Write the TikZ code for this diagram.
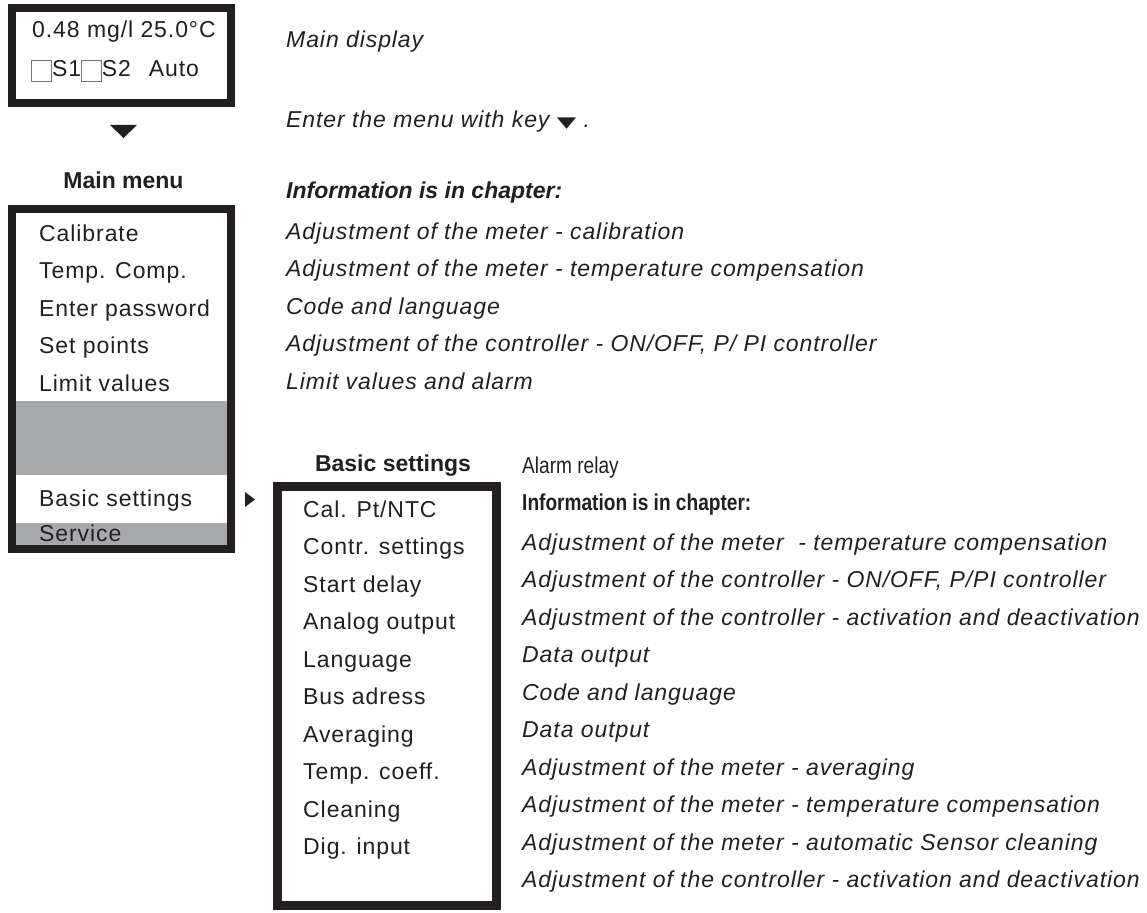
\documentclass[tikz,border=0pt]{standalone}
\usepackage{fontspec}
\setmainfont{Liberation Sans}[LetterSpace=4, BoldFeatures={LetterSpace=0}, BoldItalicFeatures={LetterSpace=0}]
\newfontfamily\symfont{DejaVu Sans}
\newfontfamily\narrowfont{Liberation Sans}[FakeStretch=0.83]

\definecolor{ink}{RGB}{35,31,32}
\definecolor{menugray}{RGB}{167,168,171}

\newcommand\basefont{\fontsize{23}{28}\selectfont}
% small check box of the display
\newcommand\ckbox{\raisebox{-4pt}{\textcolor{black!55}{\fboxsep=0pt\fboxrule=0.9pt\fbox{\rule{0pt}{20pt}\hspace{19pt}}}}}
% key symbol in the text
\newcommand\keydown{{\symfont\scalebox{1.1}[0.65]{▼}}}

\tikzset{
  frame/.style={draw=ink, line width=8pt},
  entry/.style={anchor=base west, inner sep=0pt, text=ink, font=\basefont},
  note/.style={entry, font=\basefont\itshape},
  narrow/.style={entry, font=\narrowfont\basefont},
  title/.style={anchor=base, inner sep=0pt, text=ink, font=\basefont\bfseries},
  marker/.style={fill=ink},
}

\begin{document}
\begin{tikzpicture}[x=1pt, y=-1pt]
  \useasboundingbox (0,0) rectangle (1147,912);

  % display
  \draw[frame] (12,8) rectangle (231,103);
  \node[entry] (reading) at (32,38) {0.48 mg/l 25.0°C};
  \node[entry] (status) at (31,77) {\ckbox S1\ckbox S2\hspace{18pt}Auto};
  \fill[marker] (110,125) -- (137,125) -- (123.5,138) -- cycle;

  % main menu
  \node[title] (mainhead) at (123.5,188) {Main menu};
  \fill[menugray] (16,401) rectangle (227,475);
  \fill[menugray] (16,523) rectangle (227,545);
  \draw[frame] (12,209) rectangle (231,549);
  \foreach \t [count=\i from 1] in {Calibrate, Temp. Comp., Enter password, Set points, Limit values}
    \node[entry] (m\i) at (39,203.5+37.5*\i) {\t};
  \node[entry] (m6) at (39,506) {Basic settings};
  \node[entry] (m7) at (39,541) {Service};
  \fill[marker] (245,492) -- (255,499.5) -- (245,507) -- cycle;

  % basic settings submenu
  \node[title] (basichead) at (393,471) {Basic settings};
  \draw[frame, line width=9pt] (277.5,486.5) rectangle (496.5,905.5);
  \foreach \t [count=\i from 1] in {Cal. Pt/NTC, Contr. settings, Start delay, Analog output, Language,
      Bus adress, Averaging, Temp. coeff., Cleaning, Dig. input}
    \node[entry] (b\i) at (303,479.5+37.5*\i) {\t};

  % notes for the main menu
  \node[note] (n1) at (286,48) {Main display};
  \node[note] (n2) at (286,128) {Enter the menu with key \keydown\ .};
  \node[note, font=\basefont\bfseries\itshape] (n3) at (286,198) {Information is in chapter:};
  \foreach \t [count=\i from 1] in {Adjustment of the meter - calibration,
      Adjustment of the meter - temperature compensation,
      Code and language,
      {Adjustment of the controller - ON/OFF, P/ PI controller},
      Limit values and alarm}
    \node[note] (c\i) at (286,201.5+37.5*\i) {\t};

  % notes for basic settings
  \node[narrow] (alarm) at (522,473) {Alarm relay};
  \node[narrow, font=\narrowfont\basefont\bfseries] (info) at (522,510) {Information is in chapter:};
  \foreach \t [count=\i from 1] in {Adjustment of the meter\ \ - temperature compensation,
      {Adjustment of the controller - ON/OFF, P/PI controller},
      Adjustment of the controller - activation and deactivation,
      Data output,
      Code and language,
      Data output,
      Adjustment of the meter - averaging,
      Adjustment of the meter - temperature compensation,
      Adjustment of the meter - automatic Sensor cleaning,
      Adjustment of the controller - activation and deactivation}
    \node[note] (d\i) at (522,512.5+37.5*\i) {\t};
\end{tikzpicture}
\end{document}
